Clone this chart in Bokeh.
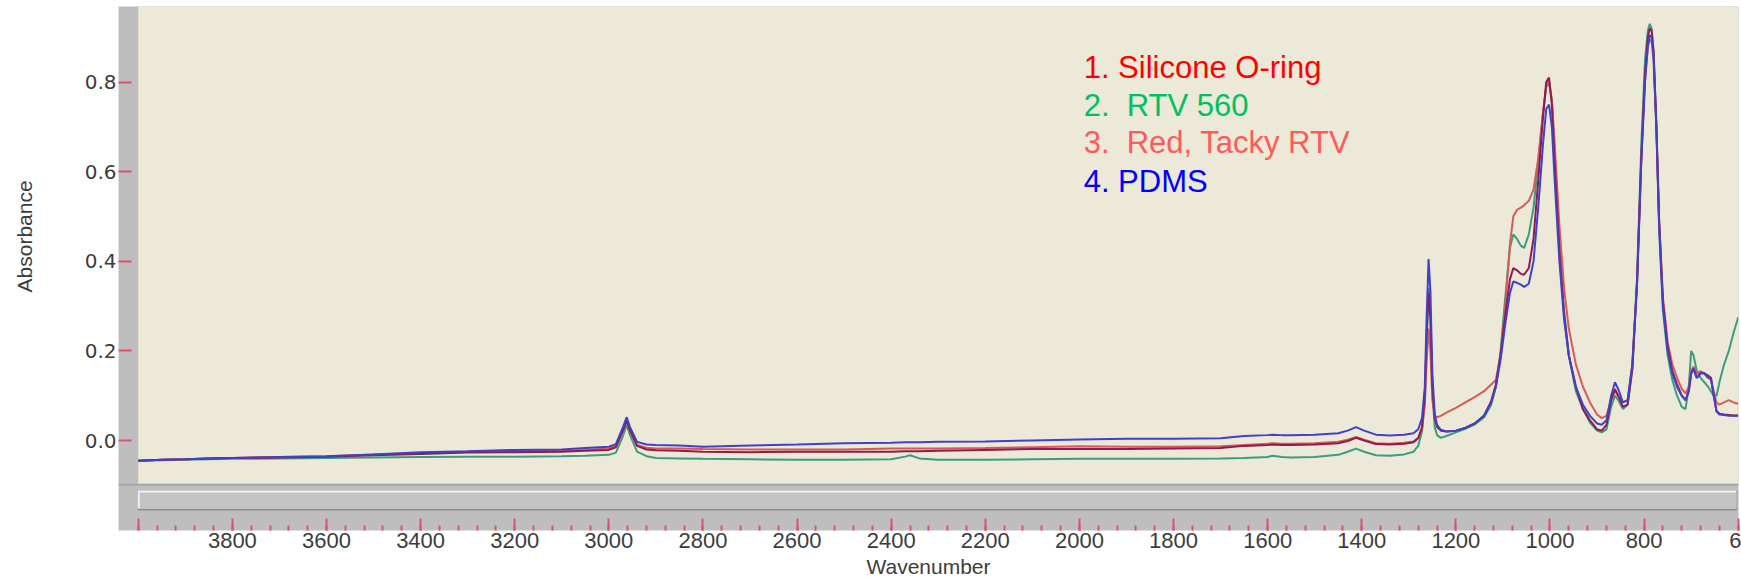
import math
from bokeh.plotting import figure
from bokeh.models import Range1d, FixedTicker, BoxAnnotation, Label, ColumnDataSource, PrintfTickFormatter
from bokeh.embed import file_html
from bokeh.resources import INLINE

# ---------------- data ----------------
wavenumber = [4000, 3950, 3900, 3850, 3800, 3700, 3600, 3500, 3400, 3300, 3200, 3100, 3050, 3000,
              2985, 2970, 2962, 2955, 2940, 2920, 2900, 2850, 2800, 2700, 2600, 2500, 2400, 2370,
              2360, 2340, 2300, 2200, 2100, 2000, 1900, 1800, 1700, 1650, 1600, 1590, 1570, 1550,
              1500, 1450, 1430, 1412, 1395, 1370, 1340, 1310, 1290, 1280, 1272, 1266, 1262, 1258,
              1254, 1250, 1245, 1240, 1232, 1220, 1200, 1180, 1160, 1140, 1125, 1115, 1105, 1095,
              1085, 1078, 1070, 1062, 1055, 1045, 1035, 1025, 1015, 1008, 1002, 996, 990, 980,
              970, 960, 945, 930, 915, 900, 890, 880, 870, 862, 855, 845, 835, 825, 815, 806,
              798, 792, 788, 784, 780, 774, 768, 760, 750, 740, 730, 720, 712, 705, 700, 695,
              688, 680, 672, 664, 658, 652, 646, 640, 630, 620, 610, 600]

pdms = [-0.045, -0.043, -0.042, -0.040, -0.039, -0.037, -0.035, -0.031, -0.026, -0.024, -0.021, -0.020, -0.017, -0.014,
        -0.008, 0.030, 0.052, 0.030, -0.003, -0.009, -0.010, -0.011, -0.014, -0.011, -0.009, -0.006, -0.005, -0.004,
        -0.004, -0.004, -0.003, -0.002, 0.000, 0.002, 0.004, 0.004, 0.005, 0.010, 0.012, 0.013, 0.012, 0.012,
        0.013, 0.016, 0.022, 0.030, 0.022, 0.013, 0.011, 0.013, 0.016, 0.025, 0.050, 0.120, 0.280, 0.405,
        0.330, 0.150, 0.060, 0.035, 0.024, 0.020, 0.022, 0.028, 0.038, 0.055, 0.085, 0.120, 0.180, 0.260,
        0.330, 0.355, 0.352, 0.348, 0.343, 0.350, 0.400, 0.520, 0.660, 0.740, 0.750, 0.700, 0.580, 0.400,
        0.270, 0.190, 0.120, 0.080, 0.055, 0.038, 0.035, 0.045, 0.100, 0.130, 0.115, 0.085, 0.090, 0.170, 0.350, 0.620,
        0.800, 0.880, 0.905, 0.900, 0.860, 0.700, 0.480, 0.300, 0.200, 0.150, 0.120, 0.100, 0.090, 0.110, 0.150, 0.160,
        0.140, 0.150, 0.150, 0.140, 0.140, 0.100, 0.065, 0.058, 0.057, 0.055, 0.055, 0.055]

red_tacky_rtv = [-0.045, -0.043, -0.042, -0.040, -0.039, -0.038, -0.036, -0.033, -0.030, -0.027, -0.026, -0.025, -0.023, -0.021,
                 -0.015, 0.022, 0.045, 0.022, -0.012, -0.020, -0.022, -0.023, -0.025, -0.026, -0.025, -0.025, -0.025, -0.024,
                 -0.024, -0.024, -0.023, -0.021, -0.019, -0.019, -0.019, -0.018, -0.017, -0.012, -0.010, -0.009, -0.010, -0.010,
                 -0.009, -0.006, -0.001, 0.006, 0.000, -0.008, -0.009, -0.007, -0.004, 0.005, 0.030, 0.100, 0.240, 0.330,
                 0.270, 0.120, 0.050, 0.030, 0.022, 0.020, 0.022, 0.028, 0.038, 0.056, 0.088, 0.125, 0.190, 0.280,
                 0.360, 0.385, 0.380, 0.372, 0.370, 0.385, 0.450, 0.580, 0.720, 0.800, 0.810, 0.750, 0.620, 0.420,
                 0.280, 0.190, 0.120, 0.070, 0.045, 0.025, 0.022, 0.035, 0.090, 0.115, 0.100, 0.075, 0.080, 0.160, 0.350, 0.630,
                 0.820, 0.900, 0.920, 0.915, 0.870, 0.710, 0.490, 0.310, 0.210, 0.155, 0.125, 0.100, 0.090, 0.110, 0.150, 0.160,
                 0.140, 0.150, 0.150, 0.145, 0.140, 0.100, 0.065, 0.060, 0.058, 0.057, 0.056, 0.056]

rtv_560 = [-0.045, -0.044, -0.043, -0.042, -0.041, -0.040, -0.039, -0.038, -0.037, -0.036, -0.036, -0.035, -0.034, -0.032,
           -0.027, 0.010, 0.035, 0.012, -0.025, -0.035, -0.039, -0.040, -0.041, -0.042, -0.043, -0.043, -0.042, -0.036,
           -0.033, -0.040, -0.043, -0.043, -0.042, -0.041, -0.041, -0.041, -0.040, -0.039, -0.037, -0.034, -0.037, -0.038,
           -0.037, -0.032, -0.025, -0.018, -0.025, -0.033, -0.034, -0.031, -0.025, -0.012, 0.020, 0.090, 0.220, 0.340,
           0.280, 0.110, 0.030, 0.012, 0.006, 0.010, 0.018, 0.026, 0.036, 0.052, 0.080, 0.120, 0.200, 0.320,
           0.430, 0.460, 0.450, 0.435, 0.430, 0.460, 0.520, 0.620, 0.730, 0.790, 0.800, 0.760, 0.640, 0.440,
           0.290, 0.190, 0.110, 0.070, 0.040, 0.022, 0.018, 0.025, 0.075, 0.100, 0.090, 0.070, 0.080, 0.160, 0.360, 0.660,
           0.850, 0.915, 0.930, 0.920, 0.870, 0.700, 0.470, 0.290, 0.190, 0.135, 0.100, 0.075, 0.070, 0.120, 0.200, 0.190,
           0.155, 0.140, 0.130, 0.120, 0.110, 0.100, 0.100, 0.130, 0.170, 0.200, 0.240, 0.275]

silicone_o_ring = [-0.045, -0.043, -0.042, -0.040, -0.039, -0.037, -0.035, -0.031, -0.028, -0.025, -0.024, -0.023, -0.021, -0.018,
                   -0.012, 0.024, 0.046, 0.024, -0.010, -0.016, -0.018, -0.018, -0.019, -0.020, -0.020, -0.020, -0.018, -0.018,
                   -0.018, -0.018, -0.018, -0.017, -0.015, -0.013, -0.014, -0.014, -0.013, -0.010, -0.007, -0.006, -0.007, -0.007,
                   -0.006, -0.003, 0.002, 0.008, 0.002, -0.006, -0.007, -0.005, -0.002, 0.006, 0.025, 0.080, 0.180, 0.250,
                   0.200, 0.090, 0.055, 0.052, 0.055, 0.062, 0.073, 0.085, 0.097, 0.110, 0.125, 0.135, 0.190, 0.300,
                   0.440, 0.500, 0.515, 0.520, 0.525, 0.535, 0.560, 0.630, 0.730, 0.790, 0.800, 0.760, 0.660, 0.480,
                   0.340, 0.250, 0.170, 0.120, 0.085, 0.058, 0.050, 0.055, 0.090, 0.110, 0.100, 0.085, 0.090, 0.170, 0.360, 0.630,
                   0.810, 0.880, 0.895, 0.890, 0.850, 0.700, 0.490, 0.320, 0.220, 0.170, 0.140, 0.115, 0.105, 0.120, 0.155, 0.165,
                   0.150, 0.155, 0.150, 0.140, 0.135, 0.110, 0.085, 0.080, 0.085, 0.090, 0.085, 0.082]

x_major_ticks = [4000, 3800, 3600, 3400, 3200, 3000, 2800, 2600, 2400, 2200, 2000, 1800, 1600, 1400, 1200, 1000, 800, 600]
x_minor_ticks = list(range(4000, 599, -40))
y_major_ticks = [0.0, 0.2, 0.4, 0.6, 0.8]
x_title = "Wavenumber"
y_title = "Absorbance"

legend_texts = ["1. Silicone O-ring", "2.\u00a0 RTV 560", "3.\u00a0 Red, Tacky RTV", "4. PDMS"]
legend_colors = ["#ff0000", "#00c060", "#ff5a5a", "#0000ff"]

# ---------------- figure ----------------
X0, X1 = 4042.0, 599.4
Y0, Y1 = -0.2009, 0.9688

p = figure(width=1741, height=582, output_backend="svg", toolbar_location=None,
           x_range=Range1d(X0, X1), y_range=Range1d(Y0, Y1),
           min_border_left=118, min_border_right=3, min_border_top=6, min_border_bottom=52,
           background_fill_color="#bebebe", border_fill_color="white", outline_line_color=None)
p.xgrid.visible = False
p.ygrid.visible = False

# beige plotting area
p.add_layout(BoxAnnotation(left=4000, right=X1, bottom=-0.0967, top=Y1, fill_color="#ECE9D8",
                           fill_alpha=1, line_color=None, level="underlay"))
# darker line under the plotting area
p.add_layout(BoxAnnotation(left=X0, right=X1, bottom=-0.1011, top=-0.0967, fill_color="#a6a6a6",
                           fill_alpha=1, line_color=None, level="underlay"))
# scrollbar
p.add_layout(BoxAnnotation(left=4001, right=602, bottom=-0.1563, top=-0.1116, fill_color="#8e8e8e",
                           fill_alpha=1, line_color=None, level="underlay"))
p.add_layout(BoxAnnotation(left=4001, right=604, bottom=-0.1518, top=-0.1116, fill_color="#f4f4f4",
                           fill_alpha=1, line_color=None, level="underlay"))
p.add_layout(BoxAnnotation(left=3997, right=604, bottom=-0.1518, top=-0.1161, fill_color="#c4c4c4",
                           fill_alpha=1, line_color=None, level="underlay"))

src = ColumnDataSource(dict(wn=wavenumber, pdms=pdms, red_tacky=red_tacky_rtv, rtv=rtv_560, sil=silicone_o_ring))
p.line("wn", "rtv", source=src, line_color="#3c9c7c", line_width=2)
p.line("wn", "sil", source=src, line_color="#d65a5a", line_width=2)
p.line("wn", "red_tacky", source=src, line_color="#8c1c50", line_width=2)
p.line("wn", "pdms", source=src, line_color="#4040c8", line_width=2)

tick_red = "#e0506e"
# x axis
xa = p.xaxis[0]
xa.ticker = FixedTicker(ticks=x_major_ticks, minor_ticks=x_minor_ticks)
xa.major_label_overrides = {4000: "", 600: "6"}
xa.axis_line_color = None
xa.major_tick_in = 12
xa.major_tick_out = 0
xa.minor_tick_in = 5
xa.minor_tick_out = 0
xa.major_tick_line_color = tick_red
xa.major_tick_line_width = 2
xa.minor_tick_line_color = tick_red
xa.minor_tick_line_width = 2
xa.major_label_standoff = 2
xa.major_label_text_font = "Liberation Sans"
xa.major_label_text_font_size = "22px"
xa.major_label_text_color = "#3c3c3c"
xa.axis_label = x_title
xa.axis_label_standoff = 4
xa.axis_label_text_font = "Liberation Sans"
xa.axis_label_text_font_size = "21px"
xa.axis_label_text_font_style = "normal"
xa.axis_label_text_color = "#3c3c3c"

# y axis
ya = p.yaxis[0]
ya.ticker = FixedTicker(ticks=y_major_ticks, minor_ticks=[])
ya.formatter = PrintfTickFormatter(format="%.1f")
ya.axis_line_color = None
ya.major_tick_in = 13
ya.major_tick_out = 0
ya.minor_tick_line_color = None
ya.major_tick_line_color = tick_red
ya.major_tick_line_width = 2
ya.major_label_standoff = 2
ya.major_label_text_font = "DejaVu Sans"
ya.major_label_text_font_size = "20px"
ya.major_label_text_color = "#3c3c3c"
ya.axis_label = "\u00a0" * 11 + y_title
ya.axis_label_standoff = 46
ya.axis_label_text_font = "Liberation Sans"
ya.axis_label_text_font_size = "21px"
ya.axis_label_text_font_style = "normal"
ya.axis_label_text_color = "#3c3c3c"

# legend texts
legend_y = [0.8325, 0.7477, 0.6651, 0.5780]
for t, c, yy in zip(legend_texts, legend_colors, legend_y):
    p.add_layout(Label(x=1991, y=yy, text=t, text_color=c, text_font="Liberation Sans",
                       text_font_size="31px", text_baseline="alphabetic", text_align="left"))

open("out.html", "w").write(file_html(p, INLINE))
